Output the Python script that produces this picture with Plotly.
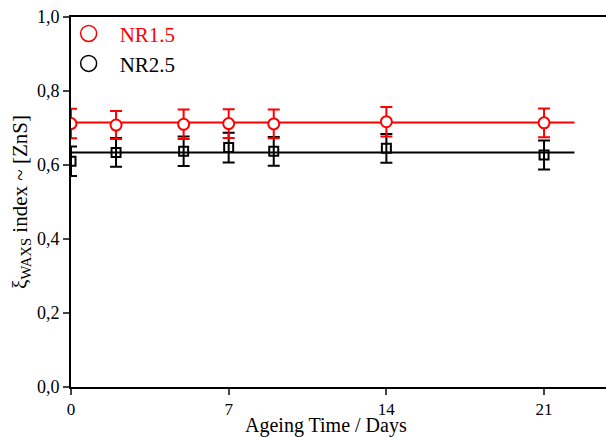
import plotly.graph_objects as go

# Ageing time (days) and ξ_WAXS index for the two rubber compounds
days = [0, 2, 5, 7, 9, 14, 21]
nr15 = [0.712, 0.708, 0.710, 0.712, 0.711, 0.717, 0.714]
nr15_err = [0.040, 0.038, 0.040, 0.039, 0.039, 0.040, 0.039]
nr25 = [0.610, 0.634, 0.637, 0.647, 0.637, 0.645, 0.627]
nr25_err = [0.040, 0.039, 0.040, 0.040, 0.039, 0.039, 0.039]

# constant fits (mean level) over the ageing range
fit_x = [0, 22.35]
nr15_fit = [0.715, 0.715]
nr25_fit = [0.634, 0.634]

x_ticks = [0, 7, 14, 21]
y_ticks = [0.0, 0.2, 0.4, 0.6, 0.8, 1.0]

RED = "#ff0000"
BLACK = "#000000"
FONT = "Liberation Serif"

fig = go.Figure()

fig.add_trace(go.Scatter(x=fit_x, y=nr15_fit, mode="lines",
                         line=dict(color=RED, width=2), showlegend=False))
fig.add_trace(go.Scatter(x=fit_x, y=nr25_fit, mode="lines",
                         line=dict(color=BLACK, width=2), showlegend=False))

fig.add_trace(go.Scatter(
    x=days, y=nr25, mode="markers", showlegend=False,
    marker=dict(symbol="square-open", size=9, color=BLACK, line=dict(width=2)),
    error_y=dict(type="data", array=nr25_err, visible=True, color=BLACK,
                 thickness=2, width=6),
))
fig.add_trace(go.Scatter(
    x=days, y=nr15, mode="markers", showlegend=False,
    marker=dict(symbol="circle", size=11, color="white",
                line=dict(width=2, color=RED)),
    error_y=dict(type="data", array=nr15_err, visible=True, color=RED,
                 thickness=2, width=6),
))

# legend entries, one per legend box so each label gets its own colour
fig.add_trace(go.Scatter(
    x=[None], y=[None], mode="markers", name="NR1.5", legend="legend",
    marker=dict(symbol="circle-open", size=18, color=RED, line=dict(width=1.5)),
))
fig.add_trace(go.Scatter(
    x=[None], y=[None], mode="markers", name="NR2.5", legend="legend2",
    marker=dict(symbol="circle-open", size=18, color=BLACK, line=dict(width=1.5)),
))

legend_style = dict(x=-0.025, xanchor="left", yanchor="top",
                    bgcolor="rgba(0,0,0,0)", itemwidth=52, itemsizing="trace")

fig.update_layout(
    width=606, height=437,
    margin=dict(l=71, r=0, t=17, b=50),
    paper_bgcolor="white", plot_bgcolor="white",
    separators=",.",
    font=dict(family=FONT, color=BLACK, size=18),
    legend=dict(y=1.01, font=dict(size=21, family=FONT, color=RED), **legend_style),
    legend2=dict(y=0.929, font=dict(size=21, family=FONT, color=BLACK), **legend_style),
    xaxis=dict(
        range=[0, 23.75], tickvals=x_ticks, ticks="outside", ticklen=6,
        tickwidth=2, showline=True, linewidth=2, linecolor=BLACK, mirror=True,
        showgrid=False, zeroline=False, tickfont=dict(size=17),
    ),
    yaxis=dict(
        range=[0, 1.0], tickvals=y_ticks, tickformat=".1f", ticks="outside",
        ticklen=6, tickwidth=2, showline=True, linewidth=2, linecolor=BLACK,
        showgrid=False, zeroline=False, tickfont=dict(size=18),
        title=dict(text="ξ<sub>WAXS</sub> index ~ [ZnS]", font=dict(size=21),
                   standoff=4),
    ),
)

# x-axis title placed just below the tick labels
fig.add_annotation(
    text="Ageing Time / Days", xref="x domain", yref="paper",
    x=0.476, y=-0.104, xanchor="center", yanchor="middle",
    showarrow=False, font=dict(size=20, family=FONT, color=BLACK),
)

fig.write_html("out.html")
